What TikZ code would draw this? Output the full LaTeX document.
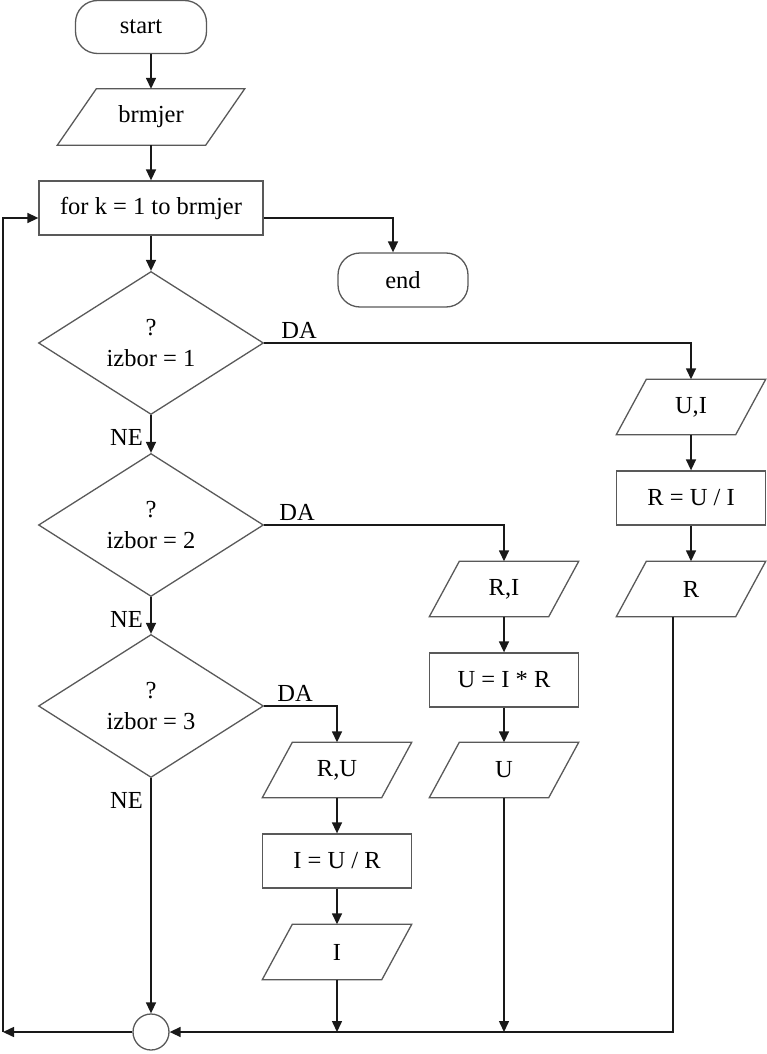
\documentclass[tikz,border=0pt]{standalone}
\usepackage{fontspec}
\setmainfont{Liberation Serif}
\usetikzlibrary{shapes.geometric,arrows.meta,calc}
\begin{document}
\begin{tikzpicture}[x=1pt,y=-1pt,
  every node/.style={font=\fontsize{24.5}{31}\selectfont},
  shapeline/.style={draw=black!65, line width=1.3pt},
  term/.style={shapeline, rounded corners=22pt, minimum width=131pt, minimum height=53pt, inner sep=0},
  proc/.style={shapeline, rectangle, minimum width=149pt, minimum height=54pt, inner sep=0},
  io/.style={rectangle, minimum width=119pt, minimum height=55pt, inner sep=0},
  dec/.style={shapeline, diamond, aspect=1.57, minimum width=225pt, minimum height=143pt, inner sep=0, align=center},
  arr/.style={draw=black!90, line width=1.5pt, -{Triangle[length=11pt,width=10pt]}},
  lab/.style={inner sep=0}
]
\useasboundingbox (0,0) rectangle (767,1054);
\node[term] (start) at (141,27) {start};
\node[io, minimum width=148pt, minimum height=56pt] (brm) at (151,117) {brmjer};
\node[proc, minimum width=224pt] (for) at (151,208) {for k = 1 to brmjer};
\node[term, minimum width=130pt, minimum height=54pt] (end) at (403,280) {end};
\node[dec] (d1) at (151,343) {?\\izbor = 1};
\node[dec] (d2) at (151,525) {?\\izbor = 2};
\node[dec] (d3) at (151,706) {?\\izbor = 3};
\node[io] (ui) at (691,407) {U,I};
\node[proc] (r1) at (691,498) {R = U / I};
\node[io] (rout) at (691,589) {R};
\node[io] (ri) at (504,589) {R,I};
\node[proc] (u1) at (504,680) {U = I * R};
\node[io] (uout) at (504,770) {U};
\node[io] (ru) at (337,770) {R,U};
\node[proc] (i1) at (337,861) {I = U / R};
\node[io] (iout) at (337,952) {I};
\node[circle, shapeline, minimum size=36pt, inner sep=0] (join) at (151,1032) {};
\coordinate (bl) at (3,1032);

\foreach \n/\s in {brm/19.5, ui/15, rout/15, ri/15, uout/15, ru/15, iout/15}
  \draw[shapeline] ($(\n.south west)+(-\s,0)$) -- ($(\n.south east)+(-\s,0)$) -- ($(\n.north east)+(\s,0)$) -- ($(\n.north west)+(\s,0)$) -- cycle;

\node[lab, anchor=south west] (da1) at ($(d1.east)+(17,-4)$) {DA};
\node[lab, anchor=south west] (da2) at ($(d2.east)+(15,-4)$) {DA};
\node[lab, anchor=south west] (da3) at ($(d3.east)+(13,-4)$) {DA};
\node[lab, anchor=east] (ne1) at ($(d1.south)+(-8,22)$) {NE};
\node[lab, anchor=east] (ne2) at ($(d2.south)+(-8,22)$) {NE};
\node[lab, anchor=east] (ne3) at ($(d3.south)+(-8,22)$) {NE};

\draw[arr] (start.south -| brm.north) -- (brm.north);
\draw[arr] (brm.south) -- (brm.south |- for.north);
\draw[arr] ($(for.east)+(0,10)$) -| ($(end.north)+(-10,0)$);
\draw[arr] (bl) |- ($(for.west)+(0,10)$);
\draw[arr] (for.south) -- (d1.north);
\draw[arr] (d1.south) -- (d2.north);
\draw[arr] (d2.south) -- (d3.north);
\draw[arr] (d1.east) -| (ui.north);
\draw[arr] (d2.east) -| (ri.north);
\draw[arr] (d3.east) -| (ru.north);
\draw[arr] (ui) -- (r1);
\draw[arr] (r1) -- (rout);
\draw[arr] (ri) -- (u1);
\draw[arr] (u1) -- (uout);
\draw[arr] (ru) -- (i1);
\draw[arr] (i1) -- (iout);
\draw[arr] (d3.south) -- (join.north);
\draw[arr] ($(rout.south)+(-18,0)$) |- (join.east);
\draw[arr] (uout.south) -- (uout.south |- join.center);
\draw[arr] (iout.south) -- (iout.south |- join.center);
\draw[arr] (join.west) -- (bl);
\end{tikzpicture}
\end{document}
